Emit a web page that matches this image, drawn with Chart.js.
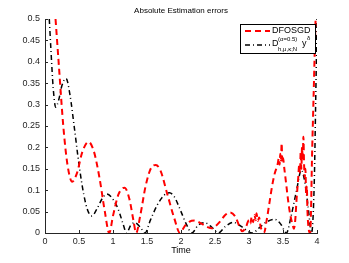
<!DOCTYPE html>
<html>
<head>
<meta charset="utf-8">
<script src="https://cdn.jsdelivr.net/npm/chart.js@4.4.1/dist/chart.umd.min.js"></script>
<style>
  body { margin: 0; background: #fff; }
</style>
</head>
<body>
<canvas id="chart1" width="349" height="263"></canvas>
<script>
// DFOSGD error (red dashed)
const redX = [0.155,0.2,0.27,0.33,0.40,0.47,0.55,0.64,0.72,0.8,0.88,0.945,1.0,1.08,1.17,1.24,1.3,1.34,1.4,1.48,1.56,1.63,1.7,1.8,1.9,1.985,2.05,2.12,2.2,2.3,2.4,2.45,2.5,2.57,2.65,2.72,2.8,2.86,2.9,2.95,3.0,
  3.02,3.04,3.06,3.08,3.1,3.11,3.13,3.15,3.17,3.2,3.22,3.26,3.3,3.34,3.38,3.42,3.44,3.45,3.46,3.47,3.48,3.49,3.5,3.52,3.55,3.58,3.61,3.64,3.66,3.68,3.7,3.72,3.74,3.75,3.76,3.77,3.78,3.79,3.8,3.81,3.82,3.83,3.84,3.85,3.86,3.88,3.9,3.93,3.95,3.98,4.0];
const redY = [0.5,0.40,0.248,0.16,0.12,0.14,0.19,0.213,0.19,0.13,0.05,0.0,0.04,0.09,0.106,0.08,0.03,0.0,0.04,0.11,0.152,0.159,0.145,0.09,0.035,0.0,0.015,0.026,0.029,0.022,0.013,0.011,0.015,0.026,0.042,0.048,0.038,0.015,0.004,0.012,0.03,
  0.022,0.038,0.025,0.042,0.03,0.046,0.028,0.036,0.015,0.004,0.0,0.03,0.07,0.11,0.14,0.16,0.175,0.16,0.185,0.17,0.21,0.165,0.175,0.15,0.11,0.07,0.04,0.02,0.01,0.03,0.08,0.12,0.16,0.14,0.19,0.15,0.2,0.17,0.225,0.16,0.13,0.15,0.09,0.11,0.05,0.007,0.0,0.2,0.32,0.5,0.56];

// D^(alpha=0.5) y^delta error (black dash-dot)
const blackX = [0.063,0.09,0.12,0.157,0.2,0.25,0.31,0.37,0.43,0.5,0.57,0.63,0.69,0.76,0.84,0.91,0.98,1.05,1.1,1.15,1.2,1.26,1.32,1.4,1.47,1.55,1.65,1.75,1.83,1.9,2.0,2.08,2.16,2.25,2.35,2.45,2.55,2.65,2.77,2.88,3.05,3.15,3.25,3.38,3.47,3.55,3.62,3.7,3.77,3.82,3.87,3.92,3.96,3.98,4.0];
const blackY = [0.5,0.42,0.34,0.294,0.31,0.345,0.361,0.32,0.248,0.16,0.09,0.052,0.04,0.055,0.08,0.091,0.083,0.065,0.045,0.02,0.0,0.018,0.024,0.014,0.0,0.03,0.065,0.088,0.094,0.085,0.05,0.02,0.0,0.018,0.024,0.014,0.0,0.015,0.025,0.016,0.0,0.012,0.025,0.032,0.02,0.0,0.04,0.1,0.147,0.12,0.06,0.0,0.12,0.3,0.5];

const xTicks = [0,0.5,1,1.5,2,2.5,3,3.5,4];
const yTicks = [0,0.05,0.1,0.15,0.2,0.25,0.3,0.35,0.4,0.45,0.5];

const toPts = (xs, ys) => xs.map((x, i) => ({x: x, y: ys[i]}));
const tickFont = { family: '"Liberation Sans", Arial, sans-serif', size: 9 };

// inward ticks, title, x label and the legend with sub/superscripts
const matlabBits = {
  id: 'matlabBits',
  afterDraw(chart) {
    const c = chart.ctx;
    const xs = chart.scales.x, ys = chart.scales.y;
    const a = chart.chartArea;
    c.save();
    c.strokeStyle = '#262626';
    c.lineWidth = 1;
    c.beginPath();
    xTicks.forEach(t => {
      const px = Math.round(xs.getPixelForValue(t)) + 0.5;
      c.moveTo(px, a.bottom);
      c.lineTo(px, a.bottom - 3);
    });
    yTicks.forEach(t => {
      const py = Math.round(ys.getPixelForValue(t)) + 0.5;
      c.moveTo(a.left, py);
      c.lineTo(a.left + 3, py);
    });
    c.stroke();

    c.fillStyle = '#000';
    c.textAlign = 'center';
    c.textBaseline = 'middle';
    c.font = '8px "Liberation Sans", Arial, sans-serif';
    c.fillText('Absolute Estimation errors', (a.left + a.right) / 2, 11);
    c.font = '9px "Liberation Sans", Arial, sans-serif';
    c.fillText('Time', (a.left + a.right) / 2, 251);

    // legend
    c.fillStyle = '#fff';
    c.fillRect(240, 24, 75, 29);
    c.strokeStyle = '#000';
    c.strokeRect(240.5, 24.5, 75, 29);
    c.lineWidth = 2;
    c.strokeStyle = '#ff0000';
    c.setLineDash([6, 4]);
    c.beginPath(); c.moveTo(245, 31); c.lineTo(270, 31); c.stroke();
    c.lineWidth = 1.5;
    c.strokeStyle = '#000';
    c.setLineDash([5, 3, 1, 3]);
    c.beginPath(); c.moveTo(245, 45); c.lineTo(270, 45); c.stroke();
    c.setLineDash([]);
    c.fillStyle = '#000';
    c.textAlign = 'left';
    c.font = '9px "Liberation Sans", Arial, sans-serif';
    c.fillText('DFOSGD', 272, 31);
    c.fillText('D', 272, 44);
    c.font = '6px "Liberation Sans", Arial, sans-serif';
    c.fillText('(\u03b1=0.5)', 278, 39);
    c.fillText('h,\u03bc,\u03ba;N', 278, 49);
    c.font = '9px "Liberation Sans", Arial, sans-serif';
    c.fillText('y', 302, 44);
    c.font = '6px "Liberation Sans", Arial, sans-serif';
    c.fillText('\u03b4', 307, 38);
    c.restore();
  }
};

const ctx1 = document.getElementById('chart1');
const myChart1 = new Chart(ctx1, {
  type: 'line',
  data: {
    datasets: [{
      label: 'DFOSGD',
      data: toPts(redX, redY),
      borderColor: '#ff0000',
      borderWidth: 2,
      borderDash: [6, 4],
      pointRadius: 0,
      cubicInterpolationMode: 'monotone'
    },
    {
      label: 'D y',
      data: toPts(blackX, blackY),
      borderColor: '#000000',
      borderWidth: 1.5,
      borderDash: [5, 3, 1, 3],
      pointRadius: 0,
      cubicInterpolationMode: 'monotone'
    }]
  },
  options: {
    responsive: false,
    animation: false,
    layout: { padding: { left: 0, top: 19, right: 32, bottom: 0 } },
    scales: {
      x: {
        type: 'linear',
        min: 0,
        max: 4,
        afterFit: s => { s.height = 30; },
        afterBuildTicks: s => { s.ticks = xTicks.map(v => ({value: v})); },
        grid: { display: false, drawTicks: false, tickLength: 0 },
        border: { display: true, color: '#262626', width: 1 },
        ticks: {
          color: '#262626',
          padding: 3,
          maxRotation: 0,
          font: tickFont,
          callback: v => String(v)
        }
      },
      y: {
        min: 0,
        max: 0.5,
        afterFit: s => { s.width = 45; },
        afterBuildTicks: s => { s.ticks = yTicks.map(v => ({value: v})); },
        grid: { display: false, drawTicks: false, tickLength: 0 },
        border: { display: true, color: '#262626', width: 1 },
        ticks: {
          color: '#262626',
          padding: 5,
          font: tickFont,
          callback: v => String(v)
        }
      }
    },
    plugins: {
      legend: { display: false },
      tooltip: { enabled: false }
    }
  },
  plugins: [matlabBits]
});
</script>
</body>
</html>
